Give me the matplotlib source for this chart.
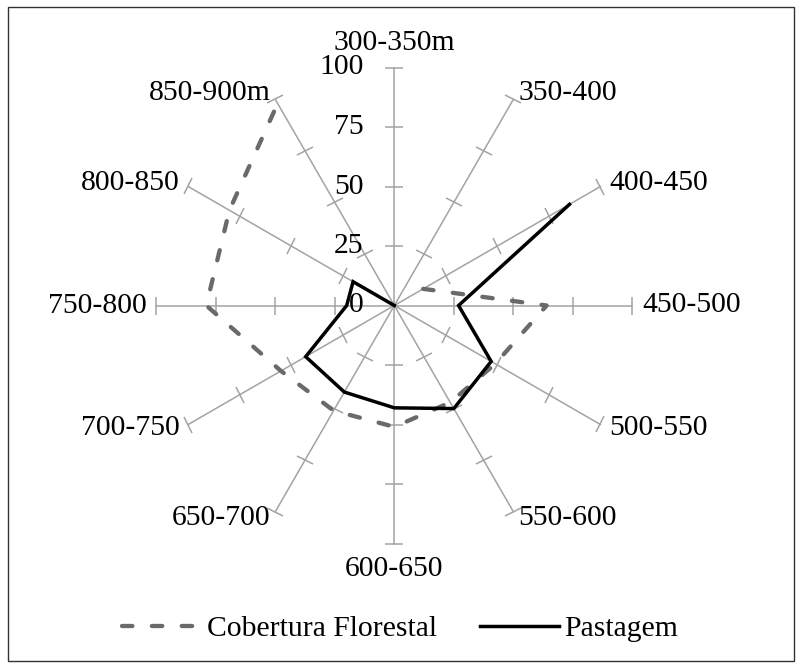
import numpy as np
import matplotlib
matplotlib.use("Agg")
import matplotlib.pyplot as plt
from matplotlib.markers import MarkerStyle
from matplotlib.transforms import Affine2D
from matplotlib.patches import Rectangle

plt.rcParams['font.family'] = ['Liberation Serif', 'DejaVu Serif']
plt.rcParams['lines.scale_dashes'] = False

categories = ['300-350m', '350-400', '400-450', '450-500', '500-550', '550-600',
              '600-650', '650-700', '700-750', '750-800', '800-850', '850-900m']
cobertura = [np.nan, np.nan, 14, 64, 49, 47, 51, 51, 55, 79, 80, 98]
pastagem = [np.nan, np.nan, 85, 27, 47, 50, 43, 42, 43, 20, 20, 0]
r_ticks = [0, 25, 50, 75, 100]
series_names = ['Cobertura Florestal', 'Pastagem']

FS = 21.3
W, H = 802, 668
fig = plt.figure(figsize=(W / 100, H / 100), dpi=100)
cx, cy, R = 394.3, 305.5, 238.0
ax = fig.add_axes([(cx - R) / W, (H - cy - R) / H, 2 * R / W, 2 * R / H], projection='polar')
ax.set_theta_zero_location('N')
ax.set_theta_direction(-1)
ax.set_ylim(0, 100)
ax.grid(False)
ax.set_xticks([])
ax.set_yticks([])
ax.spines['polar'].set_visible(False)
ax.patch.set_visible(False)

n = len(categories)
theta = np.arange(n) * 2 * np.pi / n
spoke_col = '#a3a3a3'

for i, th in enumerate(theta):
    deg = np.degrees(th)
    ax.plot([th, th], [0, 100], color=spoke_col, lw=1.1, clip_on=False, zorder=1)
    ms = MarkerStyle('_', transform=Affine2D().rotate_deg(-deg))
    ax.plot([th] * 4, r_ticks[1:], ls='none', marker=ms, markersize=12.5,
            markeredgewidth=1.1, color=spoke_col, clip_on=False, zorder=1)
    s, c = np.sin(th), np.cos(th)
    if abs(s) < 0.1:
        dx, dy, ha = 0, 25 * c, 'center'
    else:
        dx, dy = 10 * s, 7.5 * c
        ha = 'left' if s > 0 else 'right'
    ax.annotate(categories[i], xy=(th, 100), xytext=(dx, dy), textcoords='offset pixels',
                ha=ha, va='center', fontsize=FS, annotation_clip=False)

for v in r_ticks:
    ax.annotate(str(v), xy=(0, v), xytext=(-31, 0), textcoords='offset pixels',
                ha='right', va='center', fontsize=FS, annotation_clip=False)

theta_c = np.append(theta, theta[0])
cob = np.append(cobertura, cobertura[0])
pas = np.append(pastagem, pastagem[0])

l1, = ax.plot(theta_c, cob, color='#6a6a6a', lw=3.1, dashes=(7.5, 14.0),
              dash_capstyle='round', solid_joinstyle='round', clip_on=False, zorder=3)
l2, = ax.plot(theta_c, pas, color='black', lw=2.5, solid_joinstyle='miter',
              clip_on=False, zorder=4)

fig.legend([l1, l2], series_names, loc='center', bbox_to_anchor=(400 / W, 1 - 629 / H),
           ncol=2, frameon=False, fontsize=FS, handlelength=2.7, handletextpad=0.15,
           columnspacing=1.45)

fig.patches.append(Rectangle((8 / W, 7 / H), 786 / W, 654 / H, transform=fig.transFigure,
                             fill=False, edgecolor='#333333', lw=1.0))

fig.savefig('out.png', dpi=100)
